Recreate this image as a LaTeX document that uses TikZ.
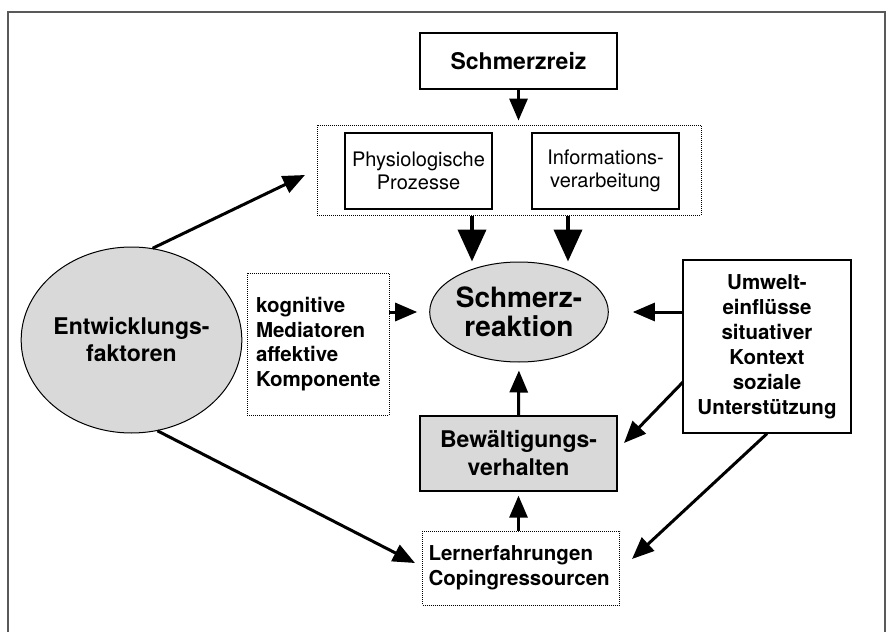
\documentclass[tikz,border=0pt]{standalone}
\usepackage{fontspec}
\setmainfont{TeX Gyre Heros}
\usetikzlibrary{arrows.meta,shapes.geometric,calc}
\definecolor{fillgray}{gray}{0.85}
\tikzset{
  solidbox/.style={draw=black, line width=1.3pt, inner sep=0pt, align=center},
  dotbox/.style={draw=black, line width=0.8pt, dash pattern=on 1pt off 1pt, inner sep=0pt},
  arr/.style={line width=3pt, -{Triangle[length=22pt,width=18pt]}},
  bigarr/.style={line width=4pt, -{Triangle[length=32pt,width=28pt]}},
  fs/.style={font=\fontsize{#1}{#1*1.2}\selectfont\bfseries}
}
\begin{document}
\begin{tikzpicture}[x=1pt,y=-1pt]
\useasboundingbox[fill=white] (0,0) rectangle (893,631);
\draw[gray!70!black, line width=1.3pt] (8,12) rectangle (885,650);

\node[solidbox, minimum width=197pt, minimum height=56pt,
  font=\fontsize{23}{27}\selectfont\bfseries] (sr) at (518.5,61) {Schmerzreiz};

\node[dotbox, minimum width=384pt, minimum height=90pt] (grp) at (509,170) {};
\node[solidbox, minimum width=147pt, minimum height=76pt,
  font=\fontsize{20}{23}\selectfont] (phys) at (418.5,171) {Physiologische\\Prozesse};
\node[solidbox, minimum width=147pt, minimum height=76pt,
  font=\fontsize{20}{23}\selectfont] (info) at (605.5,171) {Informations-\\verarbeitung};

\node[ellipse, draw=black, line width=1pt, fill=fillgray, minimum width=164pt,
  minimum height=100pt, inner sep=0pt, align=center,
  font=\fontsize{28}{29}\selectfont\bfseries] (reac) at (519,312) {Schmerz-\\reaktion};

\node[dotbox, minimum width=142pt, minimum height=142pt, text width=124pt,
  align=left, font=\fontsize{20.5}{24.5}\selectfont\bfseries] (kog) at (318,344)
  {kognitive\\Mediatoren\\affektive\\Komponente\\[7pt]};

\node[solidbox, minimum width=168pt, minimum height=173pt,
  font=\fontsize{20.5}{25}\selectfont\bfseries] (umw) at (767,346.5)
  {Umwelt-\\einflüsse\\situativer\\Kontext\\soziale\\Unterstützung};

\node[solidbox, fill=fillgray, minimum width=197pt, minimum height=75pt,
  font=\fontsize{23}{28}\selectfont\bfseries] (bew) at (518.5,453.5)
  {Bewältigungs-\\verhalten};

\node[dotbox, minimum width=197pt, minimum height=74pt, text width=185pt,
  align=left, font=\fontsize{20.5}{25}\selectfont\bfseries] (lern) at (521,568)
  {Lernerfahrungen\\Copingressourcen};

\node[ellipse, draw=black, line width=1pt, fill=fillgray, minimum width=195pt,
  minimum height=186pt, inner sep=0pt, align=center,
  font=\fontsize{23}{27}\selectfont\bfseries] (ent) at (131.5,340)
  {Entwicklungs-\\faktoren};

% helper coordinates
\coordinate (t1) at (472,216);
\coordinate (t2) at (568,216);
\coordinate (e1) at (305,175);
\coordinate (e2) at (415,563);
\coordinate (u1) at (683,382);
\coordinate (u2) at (624,443);
\coordinate (u3) at (632,559);

% arrows
\draw[arr] (sr.south) -- (sr.south |- grp.north) [shorten >=4pt];
\draw[bigarr] (t1) -- (t1 |- reac.north);
\draw[bigarr] (t2) -- (t2 |- reac.north);
\draw[arr, shorten >=12pt] (reac.west -| kog.east) -- (reac.west);
\draw[arr, shorten >=24pt] (reac.east -| umw.west) -- (reac.east);
\draw[arr, shorten >=8pt] (bew.north) -- (reac.south);
\draw[arr, shorten >=4pt] (lern.north -| bew.south) -- (bew.south);
\draw[arr] (ent.77) -- (e1);
\draw[arr] (ent.-74) -- (e2);
\draw[arr] (u1) -- (u2);
\draw[arr] (umw.south) -- (u3);
\end{tikzpicture}
\end{document}
